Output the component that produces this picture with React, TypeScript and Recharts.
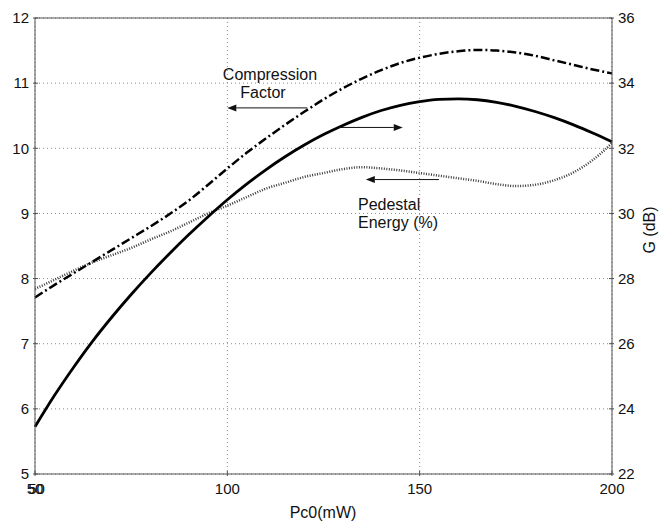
import React from 'react';
import { LineChart, Line, XAxis, YAxis, CartesianGrid, ReferenceLine } from 'recharts';

// Pc0 in mW
const pc0 = [50, 55, 60, 65, 70, 75, 80, 85, 90, 95, 100, 105, 110, 115, 120, 125, 130, 135, 140, 145, 150, 155, 160, 165, 170, 175, 180, 185, 190, 195, 200];

// left axis
const compressionFactor = [7.71, 7.9, 8.08, 8.26, 8.44, 8.62, 8.8, 8.99, 9.2, 9.44, 9.69, 9.93, 10.15, 10.36, 10.56, 10.75, 10.92, 11.07, 11.2, 11.31, 11.39, 11.45, 11.49, 11.51, 11.5, 11.47, 11.42, 11.35, 11.28, 11.21, 11.15];
const pedestalEnergy = [7.84, 7.98, 8.12, 8.25, 8.36, 8.47, 8.6, 8.72, 8.86, 9.0, 9.12, 9.25, 9.38, 9.47, 9.56, 9.62, 9.68, 9.71, 9.69, 9.66, 9.62, 9.58, 9.54, 9.5, 9.45, 9.42, 9.44, 9.51, 9.63, 9.82, 10.08];

// right axis, G (dB)
const gainDb = [23.45, 24.4, 25.27, 26.08, 26.82, 27.51, 28.16, 28.77, 29.35, 29.9, 30.42, 30.9, 31.34, 31.74, 32.1, 32.42, 32.7, 32.95, 33.16, 33.32, 33.43, 33.5, 33.52, 33.49, 33.41, 33.29, 33.13, 32.94, 32.72, 32.47, 32.2];

const xTicks = [50, 100, 150, 200];
const leftTicks = [5, 6, 7, 8, 9, 10, 11, 12];
const rightTicks = [22, 24, 26, 28, 30, 32, 34, 36];

const data = pc0.map((p, i) => ({
  pc0: p,
  cf: compressionFactor[i],
  pe: pedestalEnergy[i],
  g: gainDb[i],
}));

const FONT = '"Liberation Sans", Arial, sans-serif';
const AXIS = '#505050';
const FS = 15;
const LFS = 16;

const LeftTick = (props: any) => {
  const { x, y, payload } = props;
  return (
    <g>
      <line x1={x} x2={x + 5} y1={y} y2={y} stroke={AXIS} />
      <text x={x - 4} y={y} dy="0.35em" textAnchor="end" fontSize={FS} fontFamily={FONT} fill="#111">
        {payload.value}
      </text>
    </g>
  );
};

const RightTick = (props: any) => {
  const { x, y, payload } = props;
  return (
    <g>
      <line x1={x} x2={x - 5} y1={y} y2={y} stroke={AXIS} />
      <text x={x + 4} y={y} dy="0.35em" textAnchor="start" fontSize={FS} fontFamily={FONT} fill="#111">
        {payload.value}
      </text>
    </g>
  );
};

const BottomTick = (props: any) => {
  const { x, y, payload } = props;
  return (
    <g>
      <line x1={x} x2={x} y1={y} y2={y - 5} stroke={AXIS} />
      <text x={x} y={y + 13} dy="0.35em" textAnchor="middle" fontSize={FS} fontFamily={FONT} fill="#111">
        {payload.value}
      </text>
      {payload.value === 50 && (
        <text x={x + 1.5} y={y + 13} dy="0.35em" textAnchor="middle" fontSize={FS} fontFamily={FONT} fill="#111">
          {payload.value}
        </text>
      )}
    </g>
  );
};

const Arrow = (props: any) => {
  const { x1, y1, x2, y2 } = props;
  const a = Math.atan2(y2 - y1, x2 - x1);
  const L = 9;
  const W = 3.5;
  const bx = x2 - L * Math.cos(a);
  const by = y2 - L * Math.sin(a);
  const pts = `${x2},${y2} ${bx - W * Math.sin(a)},${by + W * Math.cos(a)} ${bx + W * Math.sin(a)},${by - W * Math.cos(a)}`;
  return (
    <g>
      <line x1={x1} y1={y1} x2={bx} y2={by} stroke="#111" strokeWidth={1} />
      <polygon points={pts} fill="#111" />
    </g>
  );
};

// annotation arrows [from, to] in data coords (left axis)
const cfArrow = [{ x: 120.8, y: 10.62 }, { x: 100, y: 10.62 }];
const gArrow = [{ x: 129, y: 10.32 }, { x: 145.6, y: 10.32 }];
const peArrow = [{ x: 155, y: 9.52 }, { x: 136, y: 9.52 }];

export default function App() {
  return (
    <div style={{ position: 'absolute', left: 0, top: 0, width: 660, height: 525, background: '#fff' }}>
      <LineChart width={660} height={525} data={data} margin={{ top: 18, right: 0, bottom: 0, left: 0 }}>
        <CartesianGrid yAxisId="left" stroke="#8a8a8a" strokeDasharray="1 3" />
        <XAxis
          dataKey="pc0"
          type="number"
          domain={[50, 200]}
          ticks={xTicks}
          interval={0}
          height={51}
          tickSize={0}
          tickLine={false}
          axisLine={{ stroke: AXIS }}
          tick={<BottomTick />}
        />
        <YAxis
          yAxisId="left"
          type="number"
          domain={[5, 12]}
          ticks={leftTicks}
          interval={0}
          width={35}
          tickSize={0}
          tickLine={false}
          allowDataOverflow
          axisLine={{ stroke: AXIS }}
          tick={<LeftTick />}
        />
        <YAxis
          yAxisId="right"
          orientation="right"
          type="number"
          domain={[22, 36]}
          ticks={rightTicks}
          interval={0}
          width={48}
          tickSize={0}
          tickLine={false}
          allowDataOverflow
          axisLine={{ stroke: AXIS }}
          tick={<RightTick />}
        />
        <ReferenceLine yAxisId="left" y={12} stroke={AXIS} strokeWidth={1} />
        <Line yAxisId="left" dataKey="pe" type="monotone" stroke="#3a3a3a" strokeWidth={2.5} strokeDasharray="1 1.5" dot={false} isAnimationActive={false} />
        <Line yAxisId="left" dataKey="cf" type="monotone" stroke="#000" strokeWidth={2.5} strokeDasharray="9 3 2 3" dot={false} isAnimationActive={false} />
        <Line yAxisId="right" dataKey="g" type="monotone" stroke="#000" strokeWidth={2.8} dot={false} isAnimationActive={false} />
        <ReferenceLine yAxisId="left" segment={cfArrow} shape={Arrow} />
        <ReferenceLine yAxisId="left" segment={gArrow} shape={Arrow} />
        <ReferenceLine yAxisId="left" segment={peArrow} shape={Arrow} />
        <text x={270} y={74} dy="0.35em" textAnchor="middle" fontSize={LFS} fontFamily={FONT} fill="#111">Compression</text>
        <text x={263} y={92} dy="0.35em" textAnchor="middle" fontSize={LFS} fontFamily={FONT} fill="#111">Factor</text>
        <text x={358} y={204} dy="0.35em" textAnchor="start" fontSize={LFS} fontFamily={FONT} fill="#111">Pedestal</text>
        <text x={358} y={222} dy="0.35em" textAnchor="start" fontSize={LFS} fontFamily={FONT} fill="#111">Energy (%)</text>
        <text x={323} y={512} dy="0.35em" textAnchor="middle" fontSize={LFS} fontFamily={FONT} fill="#111">Pc0(mW)</text>
        <text x={649} y={230} dy="0.35em" textAnchor="middle" fontSize={LFS} fontFamily={FONT} fill="#111" transform="rotate(-90, 649, 230)">G (dB)</text>
      </LineChart>
    </div>
  );
}
